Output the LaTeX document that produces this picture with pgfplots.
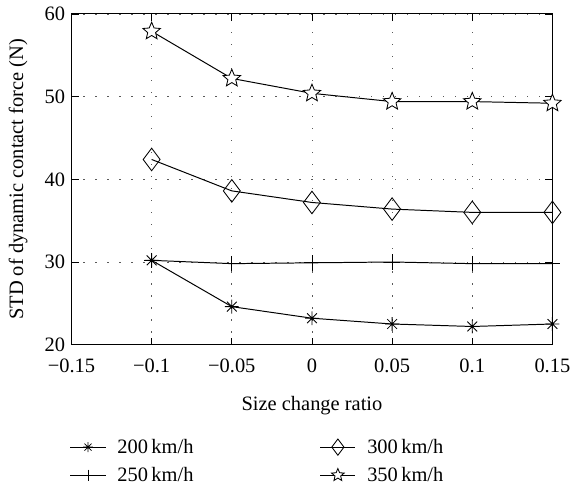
\documentclass[border=0pt]{standalone}
\usepackage{pgfplots}
\pgfplotsset{compat=1.18}
\usepackage{fontspec}
\setmainfont{Liberation Serif}
\pgfdeclareplotmark{mstar}{%
  \pgfpathmoveto{\pgfqpointpolar{90}{\pgfplotmarksize}}%
  \pgfpathlineto{\pgfqpointpolar{126}{0.45\pgfplotmarksize}}%
  \pgfpathlineto{\pgfqpointpolar{162}{\pgfplotmarksize}}%
  \pgfpathlineto{\pgfqpointpolar{198}{0.45\pgfplotmarksize}}%
  \pgfpathlineto{\pgfqpointpolar{234}{\pgfplotmarksize}}%
  \pgfpathlineto{\pgfqpointpolar{270}{0.45\pgfplotmarksize}}%
  \pgfpathlineto{\pgfqpointpolar{306}{\pgfplotmarksize}}%
  \pgfpathlineto{\pgfqpointpolar{342}{0.45\pgfplotmarksize}}%
  \pgfpathlineto{\pgfqpointpolar{18}{\pgfplotmarksize}}%
  \pgfpathlineto{\pgfqpointpolar{54}{0.45\pgfplotmarksize}}%
  \pgfpathclose
  \pgfusepathqfillstroke}
\pgfdeclareplotmark{mast}{%
  \pgfpathmoveto{\pgfqpoint{-\pgfplotmarksize}{0pt}}\pgfpathlineto{\pgfqpoint{\pgfplotmarksize}{0pt}}%
  \pgfpathmoveto{\pgfqpoint{0pt}{-\pgfplotmarksize}}\pgfpathlineto{\pgfqpoint{0pt}{\pgfplotmarksize}}%
  \pgfpathmoveto{\pgfqpointpolar{45}{\pgfplotmarksize}}\pgfpathlineto{\pgfqpointpolar{225}{\pgfplotmarksize}}%
  \pgfpathmoveto{\pgfqpointpolar{135}{\pgfplotmarksize}}\pgfpathlineto{\pgfqpointpolar{315}{\pgfplotmarksize}}%
  \pgfusepathqstroke}
\begin{document}
\begin{tikzpicture}
\begin{axis}[
  name=ax,
  width=341pt, height=234.5pt, scale only axis,
  xmin=-0.15, xmax=0.15, ymin=20, ymax=60,
  xtick={-0.15,-0.1,-0.05,0,0.05,0.1,0.15},
  xticklabels={−0.15,−0.1,−0.05,0,0.05,0.1,0.15},
  ytick={20,30,40,50,60},
  tick align=inside,
  major tick length=5pt,
  grid=major,
  major grid style={line width=0.6pt, black!65, dash pattern=on 0.9pt off 7.6pt},
  axis line style={line width=0.7pt},
  tick style={black, line width=0.6pt},
  /pgf/number format/assume math mode=true,
  tick label style={font=\fontsize{14.5}{16}\selectfont},
  yticklabel style={xshift=-1pt},
  xticklabel style={yshift=-6.5pt},
  label style={font=\fontsize{14.5}{16}\selectfont},
  xlabel={Size change ratio},
  ylabel={STD of dynamic contact force (N)},
  xlabel style={at={(axis description cs:0.5,-0.185)}, anchor=center},
  ylabel style={at={(axis description cs:-0.111,0.5)}, anchor=center},
  legend columns=2,
  transpose legend,
  legend style={at={(axis description cs:-0.004,-0.280)}, anchor=north west, draw=none, fill=none,
    inner sep=0pt, nodes={inner sep=1pt},
    font=\fontsize{14.5}{16}\selectfont, row sep=6.3pt,
    /tikz/column 1/.style={column sep=7pt},
    /tikz/column 2/.style={column sep=88.5pt},
    /tikz/column 3/.style={column sep=7pt}},
  legend cell align=left,
  legend image post style={every mark/.append style={scale=0.72}},
  legend image code/.code={\draw[mark repeat=2,mark phase=2,#1] plot coordinates {(0pt,0pt) (12.5pt,0pt) (25pt,0pt)};},
]
\addplot[black, line width=0.7pt, mark=mast, mark size=4.9pt, mark options={solid, line width=0.6pt}] coordinates {(-0.1,30.2) (-0.05,24.6) (0,23.2) (0.05,22.5) (0.1,22.2) (0.15,22.5)};
\addlegendentry{200\,km/h}
\addplot[black, line width=0.7pt, mark=+, mark size=5.5pt, mark options={solid, line width=0.6pt}] coordinates {(-0.1,30.2) (-0.05,29.8) (0,29.9) (0.05,30.0) (0.1,29.8) (0.15,29.8)};
\addlegendentry{250\,km/h}
\addplot[black, line width=0.7pt, mark=diamond, mark size=8pt, mark options={solid, fill=white, line width=0.6pt}] coordinates {(-0.1,42.4) (-0.05,38.6) (0,37.2) (0.05,36.4) (0.1,36.0) (0.15,36.0)};
\addlegendentry{300\,km/h}
\addplot[black, line width=0.7pt, mark=mstar, mark size=6.5pt, mark options={solid, fill=white, line width=0.6pt}] coordinates {(-0.1,57.9) (-0.05,52.2) (0,50.4) (0.05,49.4) (0.1,49.4) (0.15,49.2)};
\addlegendentry{350\,km/h}
\end{axis}
\path ([xshift=-50.7pt,yshift=-97.2pt]ax.south west) rectangle ([xshift=13.4pt,yshift=9.9pt]ax.north east);
\end{tikzpicture}
\end{document}
